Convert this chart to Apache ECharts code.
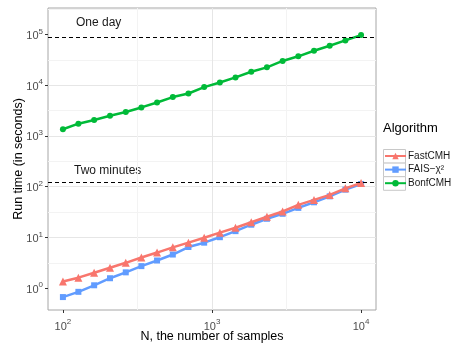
<!DOCTYPE html>
<html>
<head>
<meta charset="utf-8">
<script src="https://cdn.jsdelivr.net/npm/echarts@6/dist/echarts.min.js"></script>
<style>
  html, body { margin: 0; padding: 0; background: #fff; }
  #chart { width: 451px; height: 347px; }
</style>
</head>
<body>
<div id="chart"></div>
<script>
// sample sizes (x) and run times in seconds (y)
var samples = [100, 127, 162, 207, 264, 336, 428, 546, 695, 886, 1129, 1438, 1833, 2336, 2976, 3793, 4833, 6158, 7848, 10000];
var fastCMH = [1.35, 1.61, 2.01, 2.52, 3.16, 4.02, 5.03, 6.38, 7.88, 9.87, 12.4, 15.5, 19.9, 25.5, 32.4, 43.8, 54.9, 68.8, 92.6, 118];
var faisChi2 = [0.668, 0.847, 1.14, 1.57, 2.05, 2.72, 3.51, 4.6, 6.47, 7.88, 10.1, 13.3, 17.8, 23.3, 29.2, 38.2, 49.2, 64.5, 87.3, 113];
var bonfCMH = [1350, 1740, 2060, 2500, 2960, 3640, 4560, 5820, 6850, 9150, 11300, 14200, 18400, 22400, 30000, 37000, 47500, 59600, 76100, 97000];
var xTicks = [100, 1000, 10000];
var yTicks = [1, 10, 100, 1000, 10000, 100000];
var refLines = [86400, 120]; // one day, two minutes
var algorithms = ["FastCMH", "FAIS\u2212\u03c7\u00b2", "BonfCMH"];

var font = "Liberation Sans, Arial, Helvetica, sans-serif";

function toLog(vals) {
  return samples.map(function (n, i) {
    return [Math.log10(n), Math.log10(vals[i])];
  });
}

// labels like 10^3
function powLabel(v) {
  var e = Math.round(v);
  if (Math.abs(v - e) > 1e-6) return "";
  return "{b|10}{s|" + e + "}";
}
var labelRich = {
  b: { fontSize: 11, color: "#4d4d4d", fontFamily: font, lineHeight: 14, verticalAlign: "bottom" },
  s: { fontSize: 8, color: "#4d4d4d", fontFamily: font, lineHeight: 8, verticalAlign: "top" },
};

var chart = echarts.init(document.getElementById("chart"));

var option = {
  backgroundColor: "#fff",
  animation: false,
  grid: {
    left: 48, right: 75, top: 8, bottom: 37,
    outerBoundsMode: "none",
    show: true, borderColor: "#a6a6a6", borderWidth: 1, backgroundColor: "#fff",
  },
  xAxis: {
    type: "value",
    min: 1.9, max: 4.1, splitNumber: 2,
    name: "N, the number of samples",
    nameLocation: "middle", nameGap: 20, nameMoveOverlap: false,
    nameTextStyle: { fontSize: 12.5, color: "#000", fontFamily: font },
    axisLine: { show: false, onZero: false },
    axisTick: { show: true, length: 3, lineStyle: { color: "#333" },
      customValues: xTicks.map(Math.log10) },
    axisLabel: { margin: 8, formatter: powLabel, rich: labelRich,
      customValues: xTicks.map(Math.log10) },
    splitLine: { show: true, showMinLine: false, showMaxLine: false, lineStyle: { color: "#e6e6e6", width: 1 } },
    minorTick: { show: false, splitNumber: 2 },
    minorSplitLine: { show: true, lineStyle: { color: "#f3f3f3", width: 1 } },
  },
  yAxis: {
    type: "value",
    min: -0.43, max: 5.52, splitNumber: 5,
    name: "Run time (in seconds)",
    nameLocation: "middle", nameGap: 23, nameRotate: 90, nameMoveOverlap: false,
    nameTextStyle: { fontSize: 12.5, color: "#000", fontFamily: font },
    axisLine: { show: false, onZero: false },
    axisTick: { show: true, length: 3, lineStyle: { color: "#333" },
      customValues: yTicks.map(Math.log10) },
    axisLabel: { margin: 5, formatter: powLabel, rich: labelRich,
      customValues: yTicks.map(Math.log10) },
    splitLine: { show: true, showMinLine: false, showMaxLine: false, lineStyle: { color: "#e6e6e6", width: 1 } },
    minorTick: { show: false, splitNumber: 2 },
    minorSplitLine: { show: true, lineStyle: { color: "#f3f3f3", width: 1 } },
  },
  legend: {
    orient: "vertical",
    left: 384, top: 151,
    padding: 0,
    itemWidth: 21, itemHeight: 8, itemGap: 3.6,
    data: algorithms,
    textStyle: { fontSize: 10, color: "#1a1a1a", fontFamily: font, padding: [0, 0, 0, -3] },
  },
  graphic: [
    { type: "text", left: 76, top: 17, style: { text: "One day", fontSize: 12, fill: "#1a1a1a", fontFamily: font } },
    { type: "text", left: 74, top: 165, style: { text: "Two minutes", fontSize: 12, fill: "#1a1a1a", fontFamily: font } },
    { type: "text", left: 383, top: 122, style: { text: "Algorithm", fontSize: 13, fill: "#000", fontFamily: font } },
    { type: "rect", z: -1, shape: { x: 383.5, y: 149.5, width: 22, height: 13.6 }, style: { fill: "#fff", stroke: "#c8c8c8", lineWidth: 1 } },
    { type: "rect", z: -1, shape: { x: 383.5, y: 163.1, width: 22, height: 13.6 }, style: { fill: "#fff", stroke: "#c8c8c8", lineWidth: 1 } },
    { type: "rect", z: -1, shape: { x: 383.5, y: 176.7, width: 22, height: 13.6 }, style: { fill: "#fff", stroke: "#c8c8c8", lineWidth: 1 } },
  ],
  series: [
    {
      name: algorithms[1], type: "line", data: toLog(faisChi2),
      symbol: "rect", symbolSize: 6, z: 2,
      itemStyle: { color: "#619CFF" }, lineStyle: { width: 2.5, color: "#619CFF" },
    },
    {
      name: algorithms[0], type: "line", data: toLog(fastCMH),
      symbol: "triangle", symbolSize: 8, z: 3,
      itemStyle: { color: "#F8766D" }, lineStyle: { width: 2.5, color: "#F8766D" },
    },
    {
      name: algorithms[2], type: "line", data: toLog(bonfCMH),
      symbol: "circle", symbolSize: 6, z: 3,
      itemStyle: { color: "#00BA38" }, lineStyle: { width: 2.5, color: "#00BA38" },
      markLine: {
        silent: true, symbol: "none", label: { show: false },
        lineStyle: { color: "#000", type: [4, 3], width: 1 },
        data: refLines.map(function (v) { return { yAxis: Math.log10(v) }; }),
      },
    },
  ],
};

chart.setOption(option);
</script>
</body>
</html>
